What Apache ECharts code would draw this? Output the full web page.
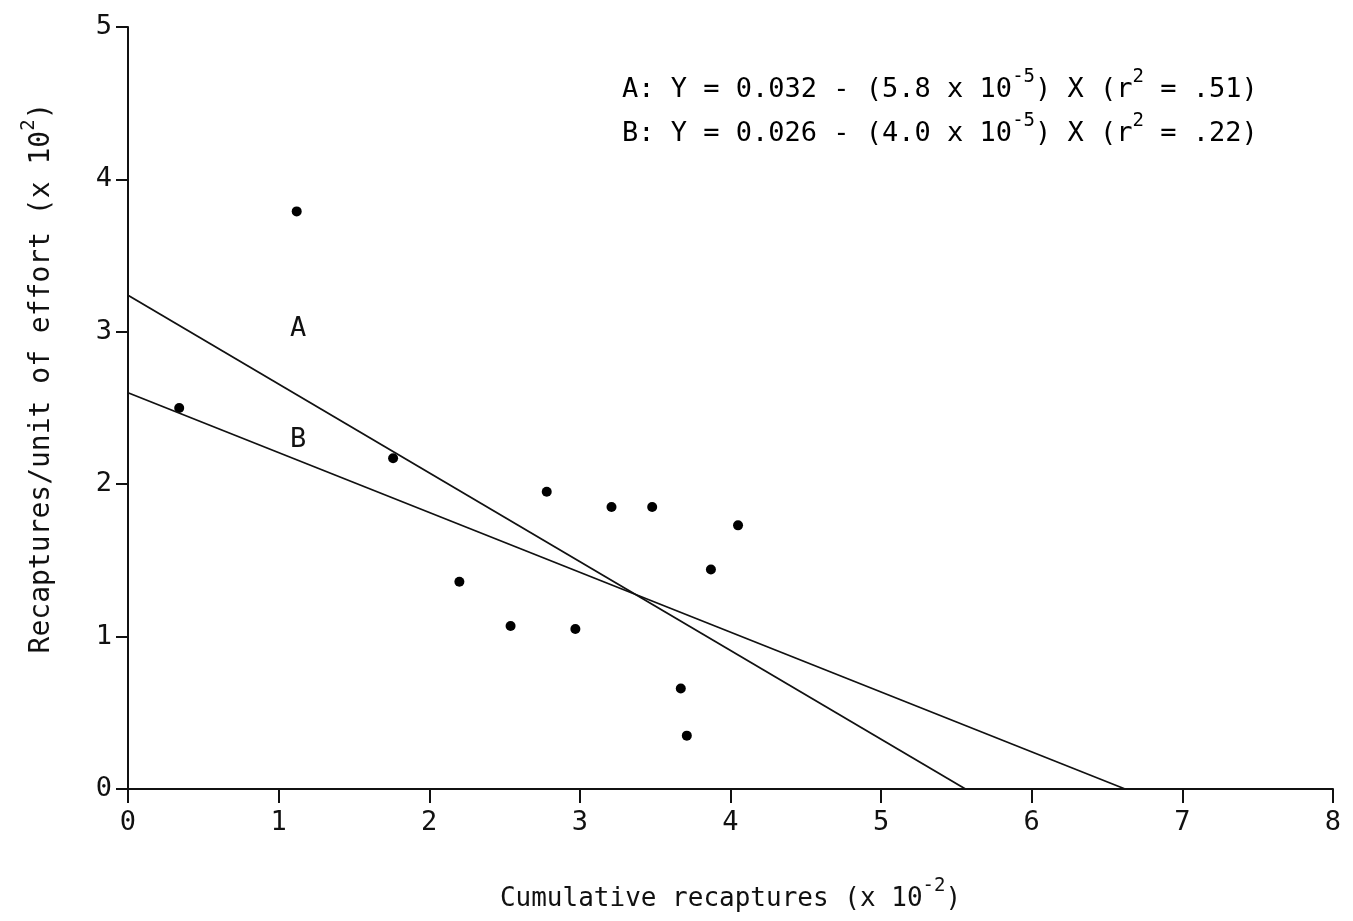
<!DOCTYPE html>
<html>
<head>
<meta charset="utf-8">
<script src="https://cdn.jsdelivr.net/npm/echarts@6/dist/echarts.min.js"></script>
<style>
  html, body { margin: 0; padding: 0; background: #fff; }
  #chart { width: 1353px; height: 921px; }
</style>
</head>
<body>
<div id="chart"></div>
<script>
// observed points (x in 10^-2 cumulative recaptures, y in 10^2 recaptures/effort)
const pointsX = [0.34, 1.12, 1.76, 2.20, 2.54, 2.78, 2.97, 3.21, 3.48, 3.67, 3.71, 3.87, 4.05]
const pointsY = [2.50, 3.79, 2.17, 1.36, 1.07, 1.95, 1.05, 1.85, 1.85, 0.66, 0.35, 1.44, 1.73]
// regression lines, end points
const lineA = [[0, 3.24], [5.56, 0]]
const lineB = [[0, 2.60], [6.62, 0]]
// line labels
const labelNames = ['A', 'B']
const labelPos = [[1.13, 3.02], [1.13, 2.29]]
const xTicks = [0, 1, 2, 3, 4, 5, 6, 7, 8]
const yTicks = [0, 1, 2, 3, 4, 5]

const font = "'DejaVu Sans Mono', monospace"
const myChart = echarts.init(document.getElementById('chart'))

const scatterData = pointsX.map((x, i) => [x, pointsY[i]])
const labelData = labelPos.map((p, i) => ({ value: p, name: labelNames[i] }))

// rich text styles for superscripts
function richStyles (size) {
  return {
    t: { fontFamily: font, fontSize: size, color: '#111', lineHeight: 44 },
    sup: { fontFamily: font, fontSize: 19, color: '#111', verticalAlign: 'top', padding: [0, 0, 20, 0], lineHeight: 44 },
    s2: { fontFamily: font, fontSize: 19, color: '#111', verticalAlign: 'top', padding: [0, 0, 8, 0], lineHeight: 44 }
  }
}

const option = {
  animation: false,
  grid: { left: 128, right: 20, top: 27, bottom: 131 },
  xAxis: {
    type: 'value', min: 0, max: 8, interval: 1,
    axisLine: { show: true, onZero: false, lineStyle: { color: '#111', width: 2 } },
    axisTick: { show: true, length: 14, lineStyle: { color: '#111', width: 2 } },
    splitLine: { show: false },
    axisLabel: {
      fontFamily: font, fontSize: 27, color: '#111', margin: 20,
      formatter: v => xTicks.includes(v) ? String(v) : ''
    },
    name: '{t|Cumulative recaptures (x 10}{sup|-2}{t|)}',
    nameLocation: 'middle', nameGap: 88,
    nameTextStyle: { rich: richStyles(26) }
  },
  yAxis: {
    type: 'value', min: 0, max: 5, interval: 1,
    axisLine: { show: true, onZero: false, lineStyle: { color: '#111', width: 2 } },
    axisTick: { show: true, length: 12, lineStyle: { color: '#111', width: 2 } },
    splitLine: { show: false },
    axisLabel: {
      fontFamily: font, fontSize: 27, color: '#111', margin: 16,
      formatter: v => yTicks.includes(v) ? String(v) : ''
    },
    name: '{t|Recaptures/unit of effort (x 10}{sup|2}{t|)}',
    nameLocation: 'middle', nameGap: 64,
    nameTextStyle: { rich: richStyles(28), padding: [0, 0, 0, 60] }
  },
  graphic: [
    {
      type: 'text', left: 622, top: 68,
      style: {
        text: '{t|A: Y = 0.032 - (5.8 x 10}{sup|-5}{t|) X (r}{s2|2}{t| = .51)}\n' +
              '{t|B: Y = 0.026 - (4.0 x 10}{sup|-5}{t|) X (r}{s2|2}{t| = .22)}',
        rich: richStyles(27)
      }
    }
  ],
  series: [
    {
      type: 'line', data: lineA, symbol: 'none', clip: false,
      lineStyle: { color: '#111', width: 1.8 }
    },
    {
      type: 'line', data: lineB, symbol: 'none', clip: false,
      lineStyle: { color: '#111', width: 1.8 }
    },
    {
      type: 'scatter', data: scatterData, symbolSize: 10,
      itemStyle: { color: '#000', opacity: 1 }
    },
    {
      type: 'scatter', data: labelData, symbolSize: 0,
      itemStyle: { opacity: 1 },
      label: {
        show: true, position: 'inside', formatter: p => p.name,
        fontFamily: font, fontSize: 27, color: '#111'
      }
    }
  ]
}
myChart.setOption(option, true)
</script>
</body>
</html>
